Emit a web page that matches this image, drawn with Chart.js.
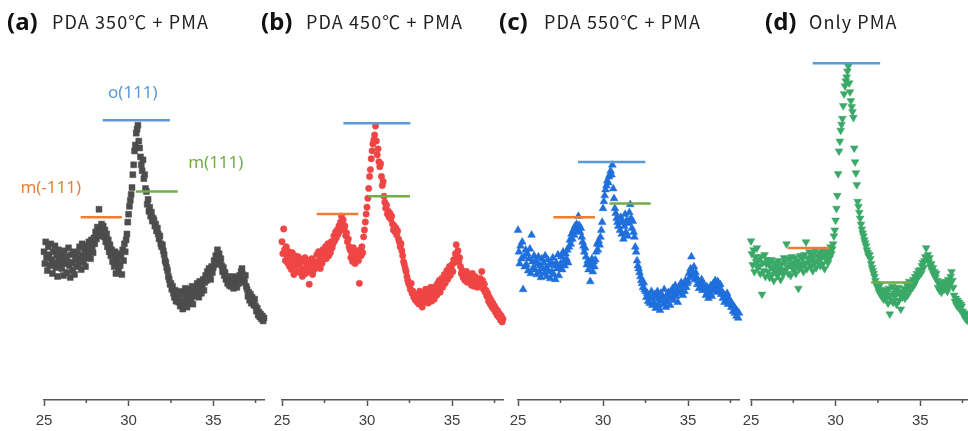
<!DOCTYPE html>
<html>
<head>
<meta charset="utf-8">
<script src="https://cdn.jsdelivr.net/npm/chart.js@4.4.1/dist/chart.umd.min.js"></script>
<style>
  html, body { margin: 0; padding: 0; background: #fff; }
  #wrap { position: relative; width: 968px; height: 431px; overflow: hidden; background: #fff; }
  .panel { position: absolute; top: 0; }
  .tag { position: absolute; top: 9px; font: bold 24px "Noto Sans", sans-serif; color: #111; line-height: 1; white-space: nowrap; }
  .sub { position: absolute; top: 12px; font: 18px "Noto Sans CJK KR", "Noto Sans", sans-serif; color: #222; line-height: 1; white-space: nowrap; letter-spacing: 1.1px; }
</style>
</head>
<body>
<div id="wrap">
  <div class="panel" style="left:0px"><canvas id="chartA" width="284" height="431"></canvas></div>
  <div class="panel" style="left:262px"><canvas id="chartB" width="261" height="431"></canvas></div>
  <div class="panel" style="left:498px"><canvas id="chartC" width="261" height="431"></canvas></div>
  <div class="panel" style="left:731px"><canvas id="chartD" width="260" height="431"></canvas></div>

  <div class="tag" style="left:7px">(a)</div><div class="sub" style="left:52px">PDA 350℃ + PMA</div>
  <div class="tag" style="left:261px">(b)</div><div class="sub" style="left:306px">PDA 450℃ + PMA</div>
  <div class="tag" style="left:499px">(c)</div><div class="sub" style="left:544px">PDA 550℃ + PMA</div>
  <div class="tag" style="left:765px">(d)</div><div class="sub" style="left:809px">Only PMA</div>
</div>
<script>
// 2theta sampling, 25 -> 38 deg every 0.05
const twoTheta = Array.from({ length: 261 }, (_, i) => +(25 + i * 0.05).toFixed(2));

// intensity (a.u.)
const pda350 = [
  150, 138, 160, 144, 131, 155, 147, 136, 158, 142,
  128, 150, 139, 156, 134, 146, 125, 152, 141, 137,
  148, 133, 143, 126, 151, 138, 145, 129, 140, 154,
  136, 124, 147, 139, 131, 150, 127, 144, 135, 142,
  149, 137, 155, 143, 132, 158, 146, 140, 152, 135,
  144, 156, 148, 160, 151, 143, 162, 155, 149, 164,
  158, 170, 163, 175, 168, 193, 172, 166, 178, 170,
  176, 165, 172, 160, 168, 155, 162, 150, 157, 146,
  152, 140, 147, 135, 150, 128, 143, 138, 131, 148,
  136, 145, 127, 152, 141, 158, 150, 162, 168, 180,
  188, 196, 202, 208, 215, 228, 238, 252, 258, 270,
  274, 278, 262, 255, 246, 238, 232, 243, 224, 228,
  214, 211, 198, 203, 191, 195, 186, 190, 181, 184,
  182, 176, 178, 171, 174, 168, 163, 166, 158, 155,
  157, 151, 147, 141, 139, 134, 131, 125, 122, 117,
  118, 112, 115, 108, 104, 111, 100, 106, 109, 99,
  104, 95, 110, 100, 92, 107, 98, 113, 101, 94,
  106, 112, 99, 109, 103, 115, 97, 110, 105, 113,
  109, 118, 112, 104, 120, 114, 108, 117, 122, 111,
  119, 126, 121, 130, 124, 133, 127, 122, 135, 129,
  134, 141, 137, 146, 140, 152, 144, 148, 138, 143,
  136, 130, 134, 126, 129, 122, 125, 118, 121, 116,
  122, 115, 119, 125, 113, 120, 117, 124, 114, 121,
  118, 126, 121, 130, 133, 127, 124, 119, 126, 115,
  112, 105, 109, 101, 107, 98, 104, 100, 96, 102,
  95, 90, 93, 86, 89, 84, 87, 82, 85, 80,
  83
];

const pda450 = [
  160, 148, 173, 152, 141, 155, 146, 138, 150, 135,
  144, 132, 149, 139, 127, 146, 136, 141, 130, 145,
  138, 129, 142, 133, 125, 140, 131, 144, 128, 136,
  134, 141, 117, 138, 130, 143, 127, 136, 132, 140,
  139, 147, 135, 150, 141, 133, 146, 138, 152, 142,
  148, 155, 143, 151, 158, 146, 153, 149, 160, 154,
  158, 166, 161, 170, 164, 172, 168, 176, 171, 180,
  186, 178, 182, 172, 176, 166, 169, 160, 163, 155,
  152, 144, 149, 140, 154, 146, 138, 150, 143, 147,
  141, 118, 152, 146, 155, 149, 165, 172, 180, 188,
  195, 204, 214, 226, 233, 244, 252, 259, 263, 268,
  277, 262, 248, 254, 241, 236, 239, 226, 217, 221,
  206, 200, 194, 197, 188, 191, 185, 189, 183, 186,
  178, 172, 176, 170, 174, 167, 171, 163, 160, 155,
  158, 151, 146, 140, 137, 133, 130, 125, 121, 118,
  116, 112, 118, 108, 110, 104, 107, 101, 105, 99,
  103, 97, 110, 100, 106, 94, 108, 99, 104, 112,
  105, 111, 98, 109, 103, 114, 100, 107, 112, 102,
  110, 115, 106, 118, 112, 121, 109, 117, 123, 114,
  120, 127, 118, 125, 131, 122, 128, 135, 126, 133,
  137, 130, 142, 139, 148, 157, 146, 151, 140, 144,
  135, 128, 131, 124, 129, 121, 126, 130, 119, 125,
  127, 119, 124, 116, 128, 121, 115, 125, 118, 122,
  114, 120, 116, 123, 118, 130, 121, 112, 117, 109,
  111, 105, 108, 100, 104, 97, 101, 94, 98, 92,
  95, 89, 92, 86, 90, 84, 87, 81, 85, 79,
  82
];

const pda550 = [
  172, 150, 138, 156, 143, 160, 112, 145, 135, 152,
  137, 148, 131, 143, 153, 128, 167, 140, 134, 146,
  132, 141, 127, 138, 145, 130, 136, 124, 143, 133,
  139, 128, 146, 134, 125, 142, 131, 137, 123, 140,
  130, 144, 127, 136, 122, 139, 133, 147, 126, 135,
  138, 145, 132, 150, 141, 136, 148, 143, 152, 139,
  155, 162, 158, 168, 163, 172, 167, 176, 171, 178,
  174, 186, 177, 170, 174, 165, 160, 156, 150, 154,
  145, 137, 141, 132, 139, 120, 136, 143, 130, 140,
  135, 142, 150, 158, 152, 161, 157, 165, 172, 180,
  194, 201, 207, 213, 217, 222, 220, 226, 228, 232,
  228, 238, 214, 204, 194, 189, 184, 180, 176, 183,
  172, 185, 168, 180, 163, 176, 188, 170, 182, 166,
  179, 190, 198, 184, 174, 181, 170, 165, 155, 150,
  141, 136, 133, 129, 125, 121, 118, 114, 119, 112,
  110, 104, 108, 100, 106, 98, 103, 110, 96, 105,
  99, 107, 93, 104, 110, 96, 102, 91, 108, 100,
  105, 97, 112, 101, 94, 106, 99, 109, 103, 96,
  110, 104, 113, 101, 108, 116, 105, 111, 99, 109,
  115, 108, 119, 112, 106, 117, 110, 121, 114, 118,
  120, 128, 124, 133, 145, 130, 126, 135, 122, 129,
  124, 117, 121, 113, 119, 115, 122, 111, 118, 114,
  112, 106, 115, 109, 103, 113, 108, 116, 105, 111,
  118, 112, 121, 114, 109, 120, 116, 111, 117, 107,
  110, 103, 107, 99, 105, 101, 108, 97, 103, 99,
  100, 94, 97, 90, 95, 88, 92, 85, 90, 83,
  88
];

const onlyPma = [
  161, 148, 137, 152, 130, 145, 140, 154, 134, 142,
  136, 128, 145, 107, 139, 131, 147, 125, 138, 142,
  130, 138, 124, 135, 142, 127, 133, 121, 139, 131,
  136, 126, 141, 129, 134, 122, 138, 131, 127, 144,
  140, 132, 158, 135, 128, 143, 137, 126, 145, 134,
  139, 131, 144, 128, 136, 141, 113, 133, 146, 138,
  135, 143, 130, 147, 138, 160, 133, 144, 139, 150,
  142, 136, 148, 131, 145, 139, 152, 134, 141, 146,
  140, 149, 136, 144, 152, 138, 146, 133, 150, 143,
  147, 139, 151, 144, 155, 148, 153, 158, 166, 172,
  182, 194, 207, 229, 252, 262, 273, 279, 285, 298,
  310, 318, 323, 327, 333, 338, 321, 312, 303, 297,
  292, 286, 255, 241, 230, 218, 201, 196, 190, 184,
  178, 173, 169, 166, 162, 159, 156, 152, 149, 146,
  147, 143, 138, 134, 131, 128, 125, 121, 118, 115,
  114, 110, 116, 107, 112, 104, 109, 102, 111, 106,
  103, 110, 98, 113, 87, 106, 101, 115, 99, 108,
  105, 112, 97, 109, 114, 101, 107, 92, 110, 104,
  108, 113, 103, 110, 117, 106, 114, 120, 111, 116,
  119, 114, 122, 117, 125, 121, 128, 124, 131, 127,
  132, 128, 136, 139, 134, 141, 145, 154, 143, 147,
  140, 144, 135, 138, 131, 134, 127, 130, 124, 128,
  121, 114, 118, 111, 117, 109, 115, 120, 112, 116,
  113, 119, 110, 122, 115, 118, 125, 130, 121, 114,
  106, 100, 103, 96, 101, 94, 99, 92, 97, 95,
  90, 86, 88, 83, 87, 81, 85, 80, 84, 82,
  80
];

// peak markers: [from 2theta, to 2theta, intensity]
const o111Lines = [[28.47, 32.44, 283], [28.61, 32.55, 280], [28.53, 32.49, 241], [28.64, 32.63, 341]];
const mMinus111Lines = [[27.17, 29.6, 185], [27.04, 29.49, 188], [27.08, 29.53, 185], [27.17, 29.63, 154]];
const m111Lines = [[30.43, 32.9, 211], [30.08, 32.53, 206], [30.38, 32.81, 199], [32.1, 34.56, 119]];

// phase labels, drawn in panel (a) only: [text, 2theta, intensity, color]
const phaseLabels = [
    ['o(111)', 30.25, 310, '#5B9BD5'],
    ['m(111)', 35.15, 240, '#70AD47'],
    ['m(-111)', 25.4, 214, '#ED7D31']
];

const minorTicks = [27.5, 32.5, 37.5];

const minorTickPlugin = {
    id: 'minorTicks',
    afterDraw(chart) {
        const x = chart.scales.x;
        const ctx = chart.ctx;
        ctx.save();
        ctx.strokeStyle = '#555';
        ctx.lineWidth = 1.5;
        minorTicks.forEach(v => {
            const px = x.getPixelForValue(v);
            ctx.beginPath();
            ctx.moveTo(px, x.top);
            ctx.lineTo(px, x.top + 3);
            ctx.stroke();
        });
        ctx.restore();
    }
};

const phaseLabelPlugin = {
    id: 'phaseLabels',
    afterDatasetsDraw(chart, args, opts) {
        if (!opts.show) return;
        const ctx = chart.ctx;
        ctx.save();
        ctx.font = '17px "Noto Sans", sans-serif';
        ctx.textAlign = 'center';
        ctx.textBaseline = 'middle';
        phaseLabels.forEach(([text, tt, inten, color]) => {
            ctx.fillStyle = color;
            ctx.fillText(text, chart.scales.x.getPixelForValue(tt), chart.scales.y.getPixelForValue(inten));
        });
        ctx.restore();
    }
};

const peakLine = (seg, color) => ({
    data: [{ x: seg[0], y: seg[2] }, { x: seg[1], y: seg[2] }],
    showLine: true,
    borderColor: color,
    borderWidth: 2.5,
    pointRadius: 0,
    clip: false,
    order: 0
});

const createPanel = (id, values, color, pointStyle, radius, rotation, idx, showLabels, padLeft) => {
    const points = twoTheta.map((t, i) => ({ x: t, y: values[i] }));
    return new Chart(document.getElementById(id).getContext('2d'), {
        type: 'scatter',
        data: {
            datasets: [
                {
                    data: points,
                    pointStyle: pointStyle,
                    pointRadius: radius,
                    pointRotation: rotation,
                    backgroundColor: color,
                    borderColor: color,
                    borderWidth: 0.5,
                    clip: false,
                    order: 1
                },
                peakLine(o111Lines[idx], '#5B9BD5'),
                peakLine(mMinus111Lines[idx], '#ED7D31'),
                peakLine(m111Lines[idx], '#70AD47')
            ]
        },
        options: {
            responsive: false,
            animation: false,
            events: [],
            layout: { padding: { left: padLeft, right: 20, top: 0, bottom: 3 } },
            scales: {
                x: {
                    type: 'linear',
                    min: 25,
                    max: 38,
                    afterFit: (scale) => { scale.height = 28; },
                    grid: { drawOnChartArea: false, drawTicks: true, tickLength: 6, tickColor: '#555', tickWidth: 1.5 },
                    border: { display: true, color: '#555', width: 1.5 },
                    ticks: {
                        stepSize: 5,
                        includeBounds: false,
                        padding: 7,
                        color: '#404040',
                        font: { family: '"Liberation Sans", Arial, sans-serif', size: 15, lineHeight: 1 }
                    }
                },
                y: {
                    display: false,
                    min: 0,
                    max: 400
                }
            },
            plugins: {
                legend: { display: false },
                tooltip: { enabled: false },
                phaseLabels: { show: showLabels }
            }
        },
        plugins: [minorTickPlugin, phaseLabelPlugin]
    });
};

createPanel('chartA', pda350, '#4d4d4d', 'rect', 4.2, 0, 0, true, 44);
createPanel('chartB', pda450, '#ef4545', 'circle', 3.2, 0, 1, false, 20);
createPanel('chartC', pda550, '#1f6fdc', 'triangle', 4.5, 0, 2, false, 20);
createPanel('chartD', onlyPma, '#3aa968', 'triangle', 4.5, 180, 3, false, 20);
</script>
</body>
</html>
